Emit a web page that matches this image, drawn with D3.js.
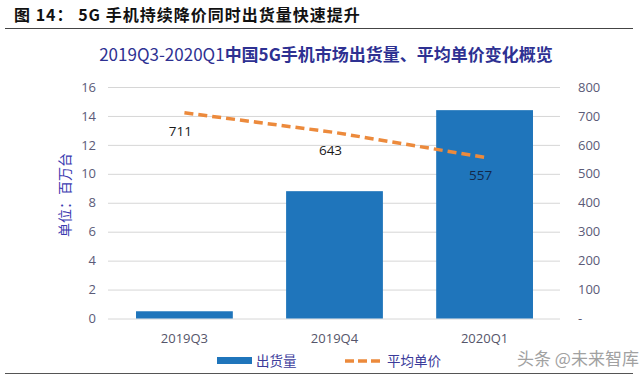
<!DOCTYPE html>
<html lang="zh">
<head>
<meta charset="UTF-8">
<title>5G手机出货量与平均单价</title>
<script src="https://d3js.org/d3.v7.min.js"></script>
<style>
    body { margin: 0; background: #fff; font-family: 'Noto Sans CJK SC', 'Noto Sans', sans-serif; }
    svg { display: block; }
</style>
</head>
<body>
<script>
    const width = 640;
    const height = 378;

    const categories = ["2019Q3", "2019Q4", "2020Q1"];
    const shipments = [0.5, 8.8, 14.4];      // 百万台
    const avgPrice = [711, 643, 557];        // 平均单价
    const leftTicks = [0, 2, 4, 6, 8, 10, 12, 14, 16];
    const rightTicks = [0, 100, 200, 300, 400, 500, 600, 700, 800];

    const barColor = "#1f75bb";
    const lineColor = "#ec8a3c";
    const navy = "#2e3192";

    const svg = d3.select("body").append("svg")
        .attr("width", width)
        .attr("height", height);

    // header
    svg.append("text")
        .attr("x", 14).attr("y", 21)
        .style("font", "bold 16px 'Noto Sans CJK SC'")
        .style("letter-spacing", "1px")
        .attr("fill", "#111")
        .text("图 14： 5G 手机持续降价同时出货量快速提升");
    svg.append("line")
        .attr("x1", 5).attr("x2", 633).attr("y1", 28.5).attr("y2", 28.5)
        .attr("stroke", "#444").attr("stroke-width", 1.2);
    svg.append("line")
        .attr("x1", 5).attr("x2", 633).attr("y1", 373.5).attr("y2", 373.5)
        .attr("stroke", "#555").attr("stroke-width", 1.2);

    const title = svg.append("text")
        .attr("x", 326).attr("y", 61)
        .attr("text-anchor", "middle")
        .attr("fill", navy)
        .style("font-size", "17px")
        .style("font-family", "'Noto Sans CJK SC'");
    title.append("tspan").text("2019Q3-2020Q1");
    title.append("tspan").style("font-weight", "bold").text("中国5G手机市场出货量、平均单价变化概览");

    // scales
    const x = d3.scaleBand().domain(categories).range([109, 560]).paddingInner(0.355).paddingOuter(0.18);
    const y = d3.scaleLinear().domain([0, 16]).range([318.5, 87]);
    const y2 = d3.scaleLinear().domain([0, 800]).range([318.5, 87]);

    // gridlines
    svg.append("g")
        .selectAll("line")
        .data(leftTicks)
        .join("line")
        .attr("x1", 108).attr("x2", 560)
        .attr("y1", d => y(d) + 0.5).attr("y2", d => y(d) + 0.5)
        .attr("stroke", "#d6d6d6").attr("stroke-width", 1);

    // left axis
    const leftAxis = svg.append("g")
        .attr("transform", "translate(104,0)")
        .call(d3.axisLeft(y).tickValues(leftTicks).tickSize(0).tickPadding(8));
    leftAxis.select(".domain").remove();
    leftAxis.selectAll("text")
        .style("font", "13px 'Open Sans'")
        .attr("fill", "#5b5b78");

    // right axis
    const rightAxis = svg.append("g")
        .attr("transform", "translate(570,0)")
        .call(d3.axisRight(y2).tickValues(rightTicks).tickSize(0).tickPadding(8)
            .tickFormat(d => d === 0 ? "-" : d));
    rightAxis.select(".domain").remove();
    rightAxis.selectAll("text")
        .style("font", "13px 'Open Sans'")
        .attr("fill", "#5b5b78");

    // axis title
    svg.append("text")
        .attr("transform", "translate(70,195) rotate(-90)")
        .attr("text-anchor", "middle")
        .attr("fill", "#3b3bb0")
        .style("font", "14px 'Noto Sans CJK SC'")
        .text("单位：百万台");

    // bars
    svg.append("g")
        .selectAll("rect")
        .data(categories)
        .join("rect")
        .attr("x", d => x(d))
        .attr("width", x.bandwidth())
        .attr("y", (d, i) => y(shipments[i]))
        .attr("height", (d, i) => y(0) - y(shipments[i]))
        .attr("fill", barColor);

    // category labels
    svg.append("g")
        .selectAll("text")
        .data(categories)
        .join("text")
        .attr("x", d => x(d) + x.bandwidth() / 2)
        .attr("y", 343)
        .attr("text-anchor", "middle")
        .style("font", "13px 'Open Sans'")
        .attr("fill", "#55556a")
        .text(d => d);

    // price line
    const cx = d => x(d) + x.bandwidth() / 2;
    const line = d3.line()
        .x((d, i) => cx(categories[i]))
        .y(d => y2(d));
    svg.append("path")
        .datum(avgPrice)
        .attr("d", line)
        .attr("fill", "none")
        .attr("stroke", lineColor)
        .attr("stroke-width", 3.5)
        .attr("stroke-dasharray", "9,5");

    svg.append("g")
        .selectAll("text")
        .data(avgPrice)
        .join("text")
        .attr("x", (d, i) => cx(categories[i]) - 4)
        .attr("y", d => y2(d) + 23)
        .attr("text-anchor", "middle")
        .style("font", "13.5px 'Open Sans'")
        .attr("fill", (d, i) => i === 2 ? "#13294b" : "#1a1a1a")
        .text(d => d);

    // legend
    const legend = svg.append("g");
    legend.append("rect")
        .attr("x", 217).attr("y", 357).attr("width", 35).attr("height", 7)
        .attr("fill", barColor);
    legend.append("text")
        .attr("x", 256).attr("y", 366)
        .style("font", "13.5px 'Noto Sans CJK SC'")
        .attr("fill", "#3b3b9a")
        .text("出货量");
    legend.append("line")
        .attr("x1", 345).attr("x2", 381).attr("y1", 361).attr("y2", 361)
        .attr("stroke", lineColor).attr("stroke-width", 3.5)
        .attr("stroke-dasharray", "9,4");
    legend.append("text")
        .attr("x", 387).attr("y", 366)
        .style("font", "13.5px 'Noto Sans CJK SC'")
        .attr("fill", "#3b3b9a")
        .text("平均单价");

    // watermark
    svg.append("text")
        .attr("x", 517).attr("y", 365)
        .style("font", "17px 'Noto Sans CJK SC'")
        .attr("fill", "#8a8a8a")
        .attr("opacity", 0.8)
        .text("头条 @未来智库");
</script>
</body>
</html>
